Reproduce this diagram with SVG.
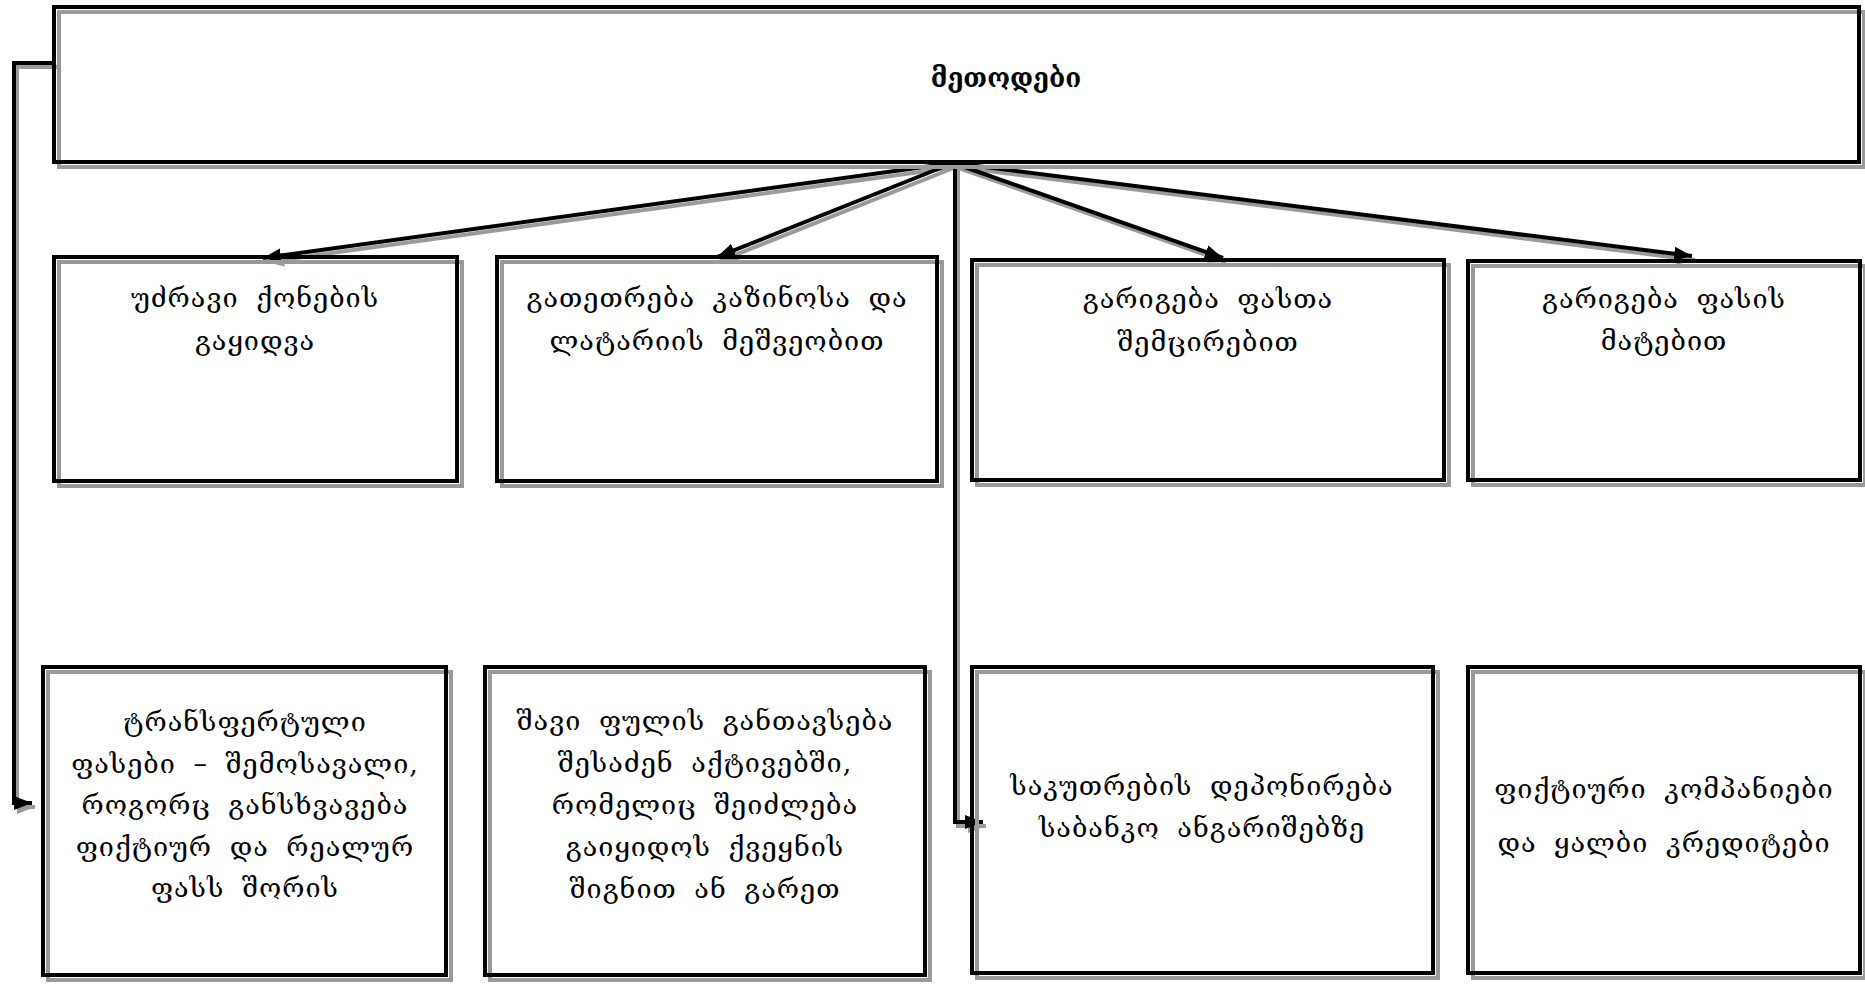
<svg xmlns="http://www.w3.org/2000/svg" width="1865" height="985" viewBox="0 0 1865 985">
<style>
.sh{fill:none;stroke:#9a9a9a;stroke-width:4}
.bx{fill:none;stroke:#000;stroke-width:4}
.ln{fill:none;stroke:#000;stroke-width:4}
.lsh{fill:none;stroke:#9a9a9a;stroke-width:4}
.t{font-family:"DejaVu Serif","DejaVu Sans",serif;font-size:27px;fill:#000;text-anchor:middle;letter-spacing:1px;word-spacing:8px}
.tt{font-family:"DejaVu Serif","DejaVu Sans",serif;font-size:26px;font-weight:bold;fill:#000;text-anchor:middle}
</style>
<defs>
<marker id="ah" markerUnits="userSpaceOnUse" markerWidth="20" markerHeight="16" refX="18" refY="8" orient="auto">
<path d="M0,1 L18,8 L0,15 Z" fill="#000"/>
</marker>
<marker id="ahs" markerUnits="userSpaceOnUse" markerWidth="20" markerHeight="16" refX="18" refY="8" orient="auto">
<path d="M0,1 L18,8 L0,15 Z" fill="#9a9a9a"/>
</marker>
</defs>
<rect width="1865" height="985" fill="#fff"/>

<g id="connectors">
<g transform="translate(3,4)">
<path class="lsh" d="M54,63 H14 V803 H32" marker-end="url(#ahs)"/>
<path class="lsh" d="M953,163 L263,258" marker-end="url(#ahs)"/>
<path class="lsh" d="M953,163 L717,257" marker-end="url(#ahs)"/>
<path class="lsh" d="M953,163 L1223,258" marker-end="url(#ahs)"/>
<path class="lsh" d="M953,163 L1692,256" marker-end="url(#ahs)"/>
<path class="lsh" d="M955,163 V822 H983" marker-end="url(#ahs)"/>
</g>
<path class="ln" d="M54,63 H14 V803 H32" marker-end="url(#ah)"/>
<path class="ln" d="M953,163 L263,258" marker-end="url(#ah)"/>
<path class="ln" d="M953,163 L717,257" marker-end="url(#ah)"/>
<path class="ln" d="M953,163 L1223,258" marker-end="url(#ah)"/>
<path class="ln" d="M953,163 L1692,256" marker-end="url(#ah)"/>
<path class="ln" d="M955,163 V822 H983" marker-end="url(#ah)"/>
</g>

<g id="n0">
<rect class="sh" x="59" y="12" width="1805" height="155"/>
<rect class="bx" x="54" y="7" width="1805" height="155"/>
<text class="tt" x="1006" y="87">მეთოდები</text>
</g>

<g id="n1">
<rect class="sh" x="59" y="262" width="403" height="224"/>
<rect class="bx" x="54" y="257" width="403" height="224"/>
<text class="t" x="255" y="307">უძრავი ქონების</text>
<text class="t" x="255" y="350">გაყიდვა</text>
</g>

<g id="n2">
<rect class="sh" x="502" y="262" width="440" height="224"/>
<rect class="bx" x="497" y="257" width="440" height="224"/>
<text class="t" x="717" y="307">გათეთრება კაზინოსა და</text>
<text class="t" x="717" y="350">ლატარიის მეშვეობით</text>
</g>

<g id="n3">
<rect class="sh" x="977" y="265" width="472" height="220"/>
<rect class="bx" x="972" y="260" width="472" height="220"/>
<text class="t" x="1208" y="308">გარიგება ფასთა</text>
<text class="t" x="1208" y="351">შემცირებით</text>
</g>

<g id="n4">
<rect class="sh" x="1473" y="266" width="392" height="219"/>
<rect class="bx" x="1468" y="261" width="392" height="219"/>
<text class="t" x="1664" y="308">გარიგება ფასის</text>
<text class="t" x="1664" y="350">მატებით</text>
</g>

<g id="n5">
<rect class="sh" x="48" y="672" width="403" height="308"/>
<rect class="bx" x="43" y="667" width="403" height="308"/>
<text class="t" x="245" y="731">ტრანსფერტული</text>
<text class="t" x="245" y="773">ფასები – შემოსავალი,</text>
<text class="t" x="245" y="814">როგორც განსხვავება</text>
<text class="t" x="245" y="856">ფიქტიურ და რეალურ</text>
<text class="t" x="245" y="897">ფასს შორის</text>
</g>

<g id="n6">
<rect class="sh" x="490" y="672" width="440" height="308"/>
<rect class="bx" x="485" y="667" width="440" height="308"/>
<text class="t" x="705" y="730">შავი ფულის განთავსება</text>
<text class="t" x="705" y="772">შესაძენ აქტივებში,</text>
<text class="t" x="705" y="814">რომელიც შეიძლება</text>
<text class="t" x="705" y="856">გაიყიდოს ქვეყნის</text>
<text class="t" x="705" y="898">შიგნით ან გარეთ</text>
</g>

<g id="n7">
<rect class="sh" x="977" y="672" width="461" height="306"/>
<rect class="bx" x="972" y="667" width="461" height="306"/>
<text class="t" x="1202" y="795">საკუთრების დეპონირება</text>
<text class="t" x="1202" y="837">საბანკო ანგარიშებზე</text>
</g>

<g id="n8">
<rect class="sh" x="1473" y="672" width="392" height="306"/>
<rect class="bx" x="1468" y="667" width="392" height="306"/>
<text class="t" x="1664" y="798">ფიქტიური კომპანიები</text>
<text class="t" x="1664" y="852">და ყალბი კრედიტები</text>
</g>
</svg>
